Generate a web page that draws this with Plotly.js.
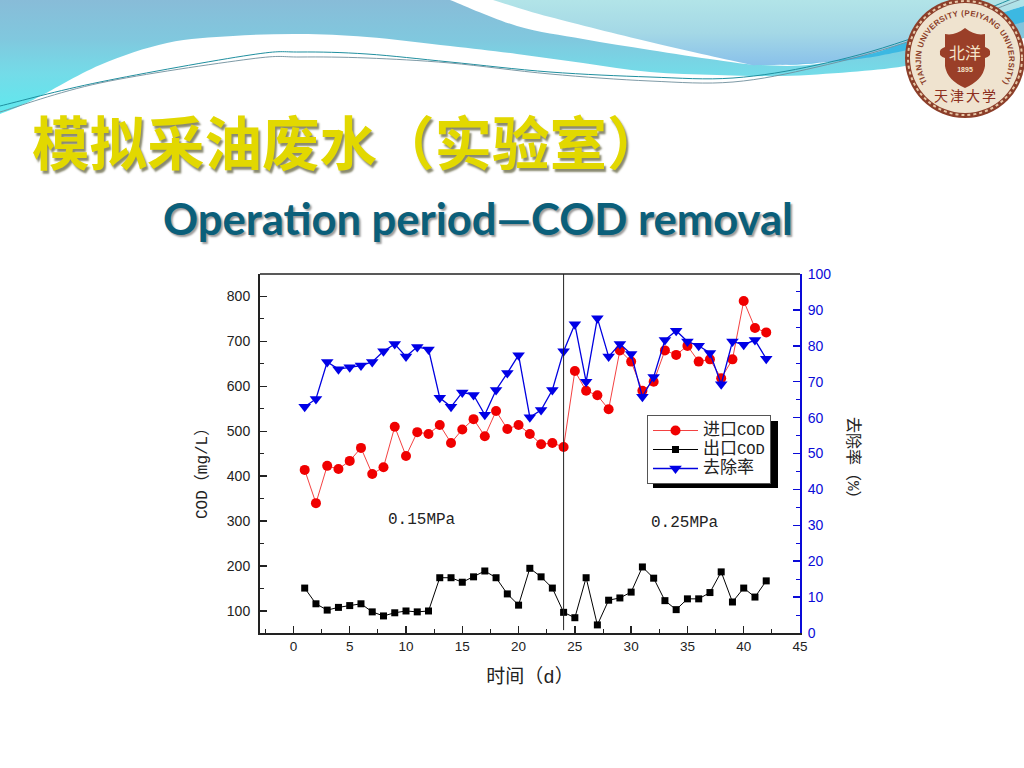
<!DOCTYPE html>
<html>
<head>
<meta charset="utf-8">
<script src="https://cdn.plot.ly/plotly-3.0.1.min.js"></script>
<style>
html,body{margin:0;padding:0;background:#fff;width:1024px;height:768px;overflow:hidden}
#bg{position:absolute;left:0;top:0}
#chart{position:absolute;left:0;top:0;width:1024px;height:768px}
</style>
</head>
<body>
<svg id="bg" width="1024" height="768" viewBox="0 0 1024 768" xmlns="http://www.w3.org/2000/svg">
<defs>
<linearGradient id="g1" gradientUnits="userSpaceOnUse" x1="0" y1="0" x2="0" y2="112">
<stop offset="0" stop-color="#88bcd8"/><stop offset="0.35" stop-color="#80c8de"/><stop offset="0.65" stop-color="#74dbe8"/><stop offset="1" stop-color="#60e8ee"/>
</linearGradient>
<linearGradient id="g3" gradientUnits="userSpaceOnUse" x1="0" y1="0" x2="0" y2="66">
<stop offset="0" stop-color="#b2e4e8"/><stop offset="0.5" stop-color="#a4d8e6"/><stop offset="1" stop-color="#88c0ea"/>
</linearGradient>
<path id="arcTop" d="M 927 82 A 44 44 0 1 1 1003 82"/>
<clipPath id="pg"><rect width="1024" height="768"/></clipPath>
</defs>
<g clip-path="url(#pg)">
<path id="bandL" fill="url(#g1)"/>
<path id="bandP" fill="url(#g3)"/>
<path id="bandB" fill="#3cb8e2"/>
<path id="ln1" fill="none" stroke="#1f8f9f" stroke-width="1"/>
<path id="ln2" fill="none" stroke="#6f8f9c" stroke-width="0.9"/>
</g>
<circle cx="965" cy="58" r="60" fill="#8c3f2a"/>
<circle cx="965" cy="58" r="57" fill="none" stroke="#e8c8a8" stroke-width="2" stroke-dasharray="3 3"/>
<circle cx="965" cy="58" r="55" fill="#efe3cf"/>
<path d="M945,34 Q955,36 965,28 Q975,36 985,34 L985,47 Q991,49 990,53 Q991,56 985,58 L985,66 Q983,80 965,88 Q947,80 945,66 L945,58 Q939,56 940,53 Q939,49 945,47 Z" fill="#9a3f28"/>
<text x="965" y="59" font-size="16" font-family="Noto Sans CJK SC" fill="#f5e4c8" text-anchor="middle">北洋</text>
<text x="965" y="72" font-size="7" font-weight="bold" font-family="Liberation Sans" fill="#f5e4c8" text-anchor="middle">1895</text>
<text font-size="8" font-weight="bold" font-family="Liberation Sans" fill="#8c3f2a" text-anchor="middle"><textPath href="#arcTop" startOffset="50%" textLength="186" lengthAdjust="spacing">TIANJIN UNIVERSITY (PEIYANG UNIVERSITY)</textPath></text>
<text x="966" y="101" font-size="14" font-family="Noto Sans CJK SC" fill="#8c2f20" text-anchor="middle" letter-spacing="2">天津大学</text>
</svg>
<div id="chart"></div>
<script>
var days = [1,2,3,4,5,6,7,8,9,10,11,12,13,14,15,16,17,18,19,20,21,22,23,24,25,26,27,28,29,30,31,32,33,34,35,36,37,38,39,40,41,42];
var inletCOD = [414,340,423,416,434,463,405,420,510,445,498,494,514,474,504,527,489,545,505,514,494,471,474,465,634,590,580,549,680,655,590,610,680,670,690,655,660,618,660,790,730,720];
var outletCOD = [151,116,102,108,112,116,98,89,96,100,98,100,174,174,164,176,189,174,138,113,195,176,151,97,85,174,69,124,129,142,198,173,123,103,127,127,141,187,120,151,131,167];
var removal = [63,65.2,75.5,73.5,74,74.5,75.5,78.5,80.5,77,79.7,79,65.5,63,67,66.3,60.8,67.7,72.4,77.4,60.1,62.1,67.7,78.5,86,70,87.7,77,80.5,77.7,65.8,71.3,81.6,84.2,81.2,80,78,69.3,81.2,80.3,81.6,76.4];
var seriesNames = ['进口COD','出口COD','去除率'];
var mainTitle = '模拟采油废水（实验室）';
var subTitle = 'Operation period—COD removal';
var xTitle = '时间（d）';
var yTitle = 'COD（mg/L）';
var y2Title = '去除率（%）';
var noteLeft = '0.15MPa';
var noteRight = '0.25MPa';

// decorative slide background (not chart data)
function smooth(p){
  var d='M'+p[0][0]+','+p[0][1];
  for(var i=0;i<p.length-1;i++){
    var a=p[Math.max(i-1,0)],b=p[i],c=p[i+1],e=p[Math.min(i+2,p.length-1)];
    d+=' C'+(b[0]+(c[0]-a[0])/6)+','+(b[1]+(c[1]-a[1])/6)+' '+(c[0]-(e[0]-b[0])/6)+','+(c[1]-(e[1]-b[1])/6)+' '+c[0]+','+c[1];
  }
  return d;
}
var edgeBottom=[[0,114],[33,100],[100,65],[167,43],[233,36],[300,34],[367,37],[450,46],[517,54],[583,63],[650,72],[717,75],[783,76],[850,72],[905,66],[965,52],[1024,38]];
var stripeLow=[[1024,18],[905,46],[817,64],[760,65],[717,60],[650,50],[583,39],[517,26],[450,0]];
var paleTop=[[493,0],[550,17],[650,42],[743,63],[760,65],[817,63],[870,54],[907,42],[1024,6]];
function byId(i){return document.getElementById(i);}
function tail(d){return d.replace(/^M[^ ]+/,'');}
byId('bandL').setAttribute('d',smooth(edgeBottom)+' L1024,18'+tail(smooth(stripeLow))+' L0,0 Z');
byId('bandP').setAttribute('d',smooth(paleTop)+' L1024,0 Z');
byId('bandB').setAttribute('d',smooth([[780,65],[817,63],[870,54],[907,42],[1024,6]])+' L1024,22'+tail(smooth([[1024,22],[907,50],[850,60],[780,65]]))+' Z');
byId('ln1').setAttribute('d',smooth([[0,106],[100,82],[250,55],[300,52],[367,54],[450,62],[550,72],[650,77],[733,78],[817,65],[907,40],[1024,-6]]));
byId('ln2').setAttribute('d',smooth([[0,112],[100,83],[250,59],[300,57],[367,58],[450,63],[550,74],[650,81],[733,82],[817,67],[907,42],[1024,-2]]));

var cjkMono = '"Liberation Mono","Noto Sans CJK SC",monospace';
var sans = '"Liberation Sans",Arial,sans-serif';
var ink = '#222';
var blue = '#0a0ad8';
function legendLabel(n){
  return n.replace(/[\u4e00-\u9fff]+/,function(m){return '<span style="font-size:17px">'+m+'</span>';})
          .replace(/[A-Z]+/,function(m){return '<span style="font-size:15.5px">'+m+'</span>';});
}

var traces = [
 {x:days,y:inletCOD,name:legendLabel(seriesNames[0]),type:'scatter',mode:'lines+markers',line:{color:'#f01010',width:0.8},marker:{color:'#f00000',symbol:'circle',size:10}},
 {x:days,y:outletCOD,name:legendLabel(seriesNames[1]),type:'scatter',mode:'lines+markers',line:{color:'#000',width:1},marker:{color:'#000',symbol:'square',size:7}},
 {x:days,y:removal,name:legendLabel(seriesNames[2]),yaxis:'y2',type:'scatter',mode:'lines+markers',line:{color:'#0000e0',width:1.3},marker:{color:'#0000e6',symbol:'triangle-down',size:11}}
];
var layout = {
 width:1024,height:768,autosize:false,
 paper_bgcolor:'rgba(0,0,0,0)',plot_bgcolor:'rgba(0,0,0,0)',
 margin:{l:260,r:224,t:274,b:135,pad:0},
 title:{text:mainTitle,x:32/1024,xanchor:'left',xref:'container',y:1-145/768,yref:'container',yanchor:'middle',
   font:{family:'"Noto Sans CJK SC"',size:57.5,weight:700,color:'#e2d800',shadow:'2px 3px 2px #8a8a70'}},
 xaxis:{range:[-2.97,45],tick0:0,dtick:5,ticks:'inside',ticklen:7,tickwidth:1.5,tickcolor:ink,showgrid:false,zeroline:false,
   showline:true,linecolor:ink,linewidth:2,mirror:false,
   minor:{dtick:2.5,tick0:0,ticks:'inside',ticklen:4,tickwidth:1,tickcolor:ink,showgrid:false},
   tickfont:{family:sans,size:13.5,color:ink},title:{text:xTitle,font:{family:cjkMono,size:19,color:ink},standoff:16}},
 yaxis:{range:[51,850],tick0:100,dtick:100,ticks:'inside',ticklen:7,tickwidth:1.5,tickcolor:ink,showgrid:false,zeroline:false,
   showline:true,linecolor:ink,linewidth:2,ticklabelstandoff:5,
   minor:{dtick:50,tick0:100,ticks:'inside',ticklen:4,tickwidth:1,tickcolor:ink,showgrid:false},
   tickfont:{family:sans,size:14,color:ink}},
 yaxis2:{range:[0,100],overlaying:'y',side:'right',tick0:0,dtick:10,ticks:'inside',ticklen:7,tickwidth:1.5,tickcolor:blue,showgrid:false,zeroline:false,
   showline:true,linecolor:blue,linewidth:2,ticklabelstandoff:3,
   minor:{dtick:5,tick0:0,ticks:'inside',ticklen:4,tickwidth:1,tickcolor:blue,showgrid:false},
   tickfont:{family:sans,size:14,color:blue}},
 legend:{x:(647-260)/540,y:(633-415)/359,xanchor:'left',yanchor:'top',bgcolor:'#fff',bordercolor:'#555',borderwidth:1,
   font:{family:cjkMono,size:12,color:ink},itemwidth:45,tracegroupgap:0},
 showlegend:true,
 shapes:[
  {type:'line',xref:'x',yref:'paper',x0:24,x1:24,y0:0.008,y1:1,line:{color:ink,width:1}},
  {type:'line',xref:'paper',yref:'paper',x0:0,x1:1,y0:1,y1:1,line:{color:ink,width:1.5}},
  {type:'rect',xref:'paper',yref:'paper',x0:(653-260)/540,x1:(778-260)/540,y0:(633-488)/359,y1:(633-421)/359,fillcolor:'#000',line:{width:0}}
 ],
 annotations:[
  {text:subTitle,xref:'paper',yref:'paper',x:(478-260)/540,y:(633-218)/359,xanchor:'center',yanchor:'middle',showarrow:false,
   font:{family:'Lato',size:43.5,weight:700,color:'#0b5f7a',shadow:'2px 2px 2px #9a9a9a'}},
  {text:noteLeft,xref:'x',yref:'y',x:11.4,y:303,showarrow:false,xanchor:'center',yanchor:'middle',font:{family:cjkMono,size:16,color:ink}},
  {text:noteRight,xref:'x',yref:'y',x:34.8,y:296,showarrow:false,xanchor:'center',yanchor:'middle',font:{family:cjkMono,size:16,color:ink}},
  {text:yTitle,xref:'paper',yref:'paper',x:(202-260)/540,y:(633-470)/359,xanchor:'center',yanchor:'middle',textangle:-90,showarrow:false,font:{family:cjkMono,size:16,color:ink}},
  {text:y2Title,xref:'paper',yref:'paper',x:(853-260)/540,y:(633-462)/359,xanchor:'center',yanchor:'middle',textangle:90,showarrow:false,font:{family:cjkMono,size:16,color:ink}}
 ]
};
Plotly.newPlot('chart',traces,layout,{displayModeBar:false,staticPlot:true});
</script>
</body>
</html>
